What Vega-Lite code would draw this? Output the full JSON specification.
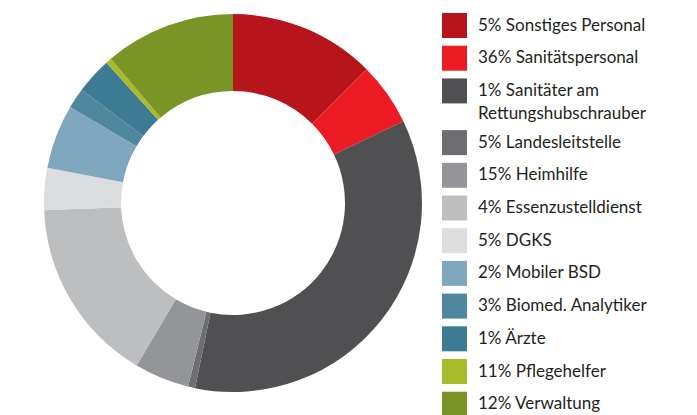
{
  "$schema": "https://vega.github.io/schema/vega-lite/v6.json",
  "width": 466,
  "height": 406,
  "padding": {"left": 0, "top": 0, "right": 231, "bottom": 9},
  "autosize": {"type": "none"},
  "background": "white",
  "view": {"stroke": null},
  "config": {"style": {"guide-label": {"lineHeight": 23}}},
  "data": {
    "values": [
      {"label": "5% Sonstiges Personal", "value": 12.5, "order": 1},
      {"label": "36% Sanitätspersonal", "value": 5.4, "order": 2},
      {"label": "1% Sanitäter am|Rettungshubschrauber", "value": 35.4, "order": 3},
      {"label": "5% Landesleitstelle", "value": 0.6, "order": 4},
      {"label": "15% Heimhilfe", "value": 4.7, "order": 5},
      {"label": "4% Essenzustelldienst", "value": 15.9, "order": 6},
      {"label": "5% DGKS", "value": 3.6, "order": 7},
      {"label": "2% Mobiler BSD", "value": 5.5, "order": 8},
      {"label": "3% Biomed. Analytiker", "value": 1.75, "order": 9},
      {"label": "1% Ärzte", "value": 3.1, "order": 10},
      {"label": "11% Pflegehelfer", "value": 0.5, "order": 11},
      {"label": "12% Verwaltung", "value": 11.2, "order": 12}
    ]
  },
  "mark": {"type": "arc", "outerRadius": 189, "innerRadius": 112},
  "encoding": {
    "theta": {"field": "value", "type": "quantitative", "stack": true},
    "order": {"field": "order", "type": "quantitative"},
    "color": {
      "field": "label",
      "type": "nominal",
      "scale": {
        "domain": [
          "5% Sonstiges Personal",
          "36% Sanitätspersonal",
          "1% Sanitäter am|Rettungshubschrauber",
          "5% Landesleitstelle",
          "15% Heimhilfe",
          "4% Essenzustelldienst",
          "5% DGKS",
          "2% Mobiler BSD",
          "3% Biomed. Analytiker",
          "1% Ärzte",
          "11% Pflegehelfer",
          "12% Verwaltung"
        ],
        "range": ["#b5151b", "#ed1c24", "#505052", "#6d6e71", "#939598", "#bcbec0", "#dcddde", "#7fa8be", "#4f879c", "#3d7a93", "#a7bb2b", "#7a9425"]
      },
      "legend": {
        "title": null,
        "orient": "none",
        "legendX": 442,
        "legendY": 13,
        "symbolType": "square",
        "symbolSize": 625,
        "symbolStrokeWidth": 0,
        "symbolOpacity": 1,
        "labelFont": "Lato",
        "labelFontSize": 17,
        "labelColor": "#231f20",
        "labelOffset": 11,
        "labelLimit": 300,
        "rowPadding": 7.7,
        "padding": 0,
        "labelExpr": "split(datum.label, '|')"
      }
    }
  }
}
